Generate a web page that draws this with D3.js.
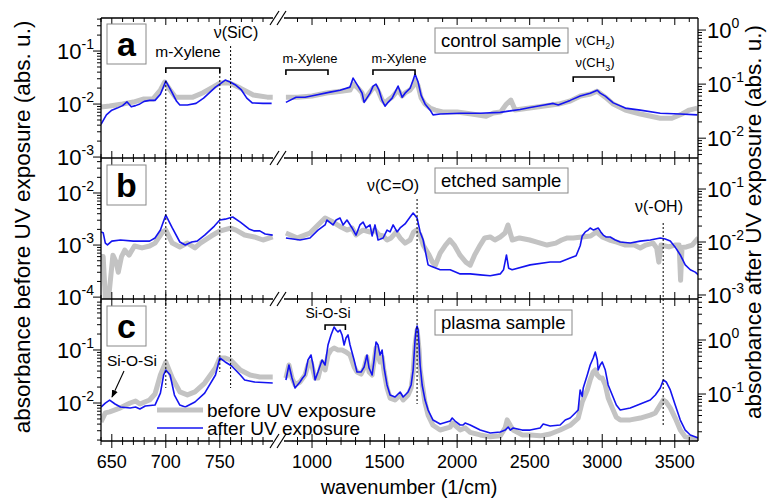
<!DOCTYPE html>
<html><head><meta charset="utf-8">
<script src="https://cdn.jsdelivr.net/npm/d3@7"></script>
<style>body{margin:0;background:#fff}svg{display:block}text{font-family:Arial,"Liberation Sans",sans-serif;fill:#000}</style>
</head><body><svg id="c" width="768" height="498"></svg>
<script>
// ---------- data (wavenumber [1/cm], absorbance [abs. u.]) ----------
const leftTicksMajor=[650,700,750];
const rightTicksMajor=[1000,1500,2000,2500,3000,3500];
const panelLetters=["a","b","c"];
const sampleNames=["control sample","etched sample","plasma sample"];
const seriesNames=["before UV exposure","after UV exposure"];

const aBeforeL=[[640,0.0088],[648,0.0092],[660,0.010],[670,0.0109],[679,0.0124],[688,0.0124],[695,0.0184],[699,0.026],[704,0.0184],[709,0.0135],[713,0.0135],[725,0.0135],[734,0.0162],[744,0.021],[750,0.0249],[759,0.0249],[769,0.020],[781,0.0148],[794,0.0135],[799,0.0135]];
const aAfterL=[[640,0.018],[645,0.027],[650,0.033],[655,0.036],[660,0.040],[664,0.047],[668,0.038],[672,0.040],[676,0.043],[680,0.048],[685,0.050],[690,0.050],[695,0.065],[700,0.114],[705,0.075],[710,0.048],[713,0.041],[720,0.041],[728,0.044],[735,0.055],[741,0.071],[746,0.088],[750,0.10],[755,0.119],[760,0.108],[765,0.095],[770,0.078],[775,0.055],[780,0.045],[790,0.044],[798,0.044]];
const aBeforeR=[[820,0.0135],[900,0.0135],[1000,0.0142],[1100,0.0162],[1200,0.0175],[1262,0.0184],[1283,0.0238],[1317,0.020],[1345,0.0162],[1359,0.0119],[1400,0.0168],[1421,0.020],[1441,0.021],[1462,0.0162],[1483,0.0119],[1503,0.0104],[1524,0.0119],[1552,0.0135],[1593,0.0184],[1621,0.0142],[1641,0.0162],[1676,0.0184],[1697,0.022],[1710,0.0284],[1731,0.022],[1752,0.013],[1779,0.010],[1814,0.0084],[1850,0.0077],[1900,0.0071],[2000,0.0071],[2100,0.0065],[2200,0.0059],[2250,0.0068],[2300,0.0071],[2340,0.010],[2370,0.0119],[2400,0.0077],[2500,0.0084],[2600,0.0092],[2700,0.010],[2780,0.0114],[2850,0.0142],[2920,0.0155],[2966,0.0175],[3021,0.0135],[3076,0.010],[3159,0.0077],[3262,0.0065],[3400,0.0054],[3480,0.0054],[3550,0.0065],[3600,0.0077],[3655,0.0084]];
const aAfterR=[[820,0.046],[890,0.057],[952,0.057],[1020,0.062],[1124,0.071],[1193,0.077],[1262,0.088],[1283,0.129],[1317,0.092],[1345,0.068],[1359,0.046],[1400,0.068],[1421,0.092],[1441,0.10],[1462,0.077],[1483,0.05],[1503,0.039],[1524,0.046],[1552,0.055],[1593,0.092],[1621,0.057],[1641,0.068],[1676,0.084],[1697,0.119],[1710,0.153],[1731,0.109],[1752,0.062],[1779,0.043],[1814,0.033],[1834,0.027],[1883,0.028],[2021,0.029],[2159,0.029],[2297,0.030],[2366,0.032],[2434,0.034],[2503,0.037],[2600,0.041],[2662,0.044],[2697,0.041],[2779,0.05],[2848,0.06],[2917,0.068],[2966,0.077],[2986,0.068],[3021,0.06],[3076,0.045],[3159,0.036],[3262,0.033],[3400,0.029],[3538,0.028],[3655,0.027]];

const bBeforeL=[[640,6e-4],[642,6e-4],[644,1e-4],[646,7e-5],[648,1.5e-4],[651,6.4e-4],[654,4.7e-4],[656,3e-4],[659,6e-4],[662,8e-4],[666,6.4e-4],[671,9.6e-4],[678,8.8e-4],[685,9.6e-4],[690,1.09e-3],[697,1.78e-3],[700,1.94e-3],[706,1.09e-3],[713,9.2e-4],[720,1.09e-3],[727,8.8e-4],[732,1.09e-3],[742,1.49e-3],[750,1.86e-3],[760,2.12e-3],[765,1.94e-3],[773,1.56e-3],[782,1.43e-3],[790,1.25e-3],[799,1.43e-3]];
const bAfterL=[[640,0.0155],[642,0.0150],[644,0.0095],[646,0.0088],[650,0.0104],[658,0.0109],[670,0.0104],[685,0.0104],[690,0.0119],[695,0.0168],[700,0.0323],[706,0.0184],[713,0.010],[718,0.0088],[724,0.010],[729,0.0104],[736,0.0135],[745,0.020],[750,0.026],[755,0.027],[762,0.0296],[769,0.0238],[777,0.0176],[782,0.0162],[787,0.0162],[792,0.0142],[799,0.0135]];
const bBeforeR=[[820,1.7e-3],[900,1.37e-3],[986,1.7e-3],[1041,2.43e-3],[1090,3.31e-3],[1145,2.77e-3],[1200,2.22e-3],[1241,1.94e-3],[1276,2.12e-3],[1303,1.56e-3],[1330,1.78e-3],[1352,1.94e-3],[1400,1.78e-3],[1434,1.94e-3],[1462,1.56e-3],[1490,1.49e-3],[1517,1.25e-3],[1545,1.37e-3],[1580,1.78e-3],[1607,1.37e-3],[1641,1.09e-3],[1676,1.25e-3],[1700,1.78e-3],[1720,1.94e-3],[1745,1.56e-3],[1766,1.0e-3],[1786,8.0e-4],[1807,6.4e-4],[1830,4.7e-4],[1850,4.1e-4],[1883,7.0e-4],[1920,1.0e-3],[1950,1.25e-3],[1980,1.0e-3],[2020,6.4e-4],[2060,4.7e-4],[2090,4.1e-4],[2120,6.4e-4],[2159,1.0e-3],[2190,1.37e-3],[2228,1.43e-3],[2260,1.25e-3],[2297,1.43e-3],[2330,1.7e-3],[2350,2.43e-3],[2380,1.25e-3],[2430,1.37e-3],[2500,1.25e-3],[2550,1.14e-3],[2620,1.0e-3],[2680,1.09e-3],[2720,1.25e-3],[2760,1.37e-3],[2800,1.37e-3],[2862,1.43e-3],[2920,1.49e-3],[2960,1.78e-3],[3000,1.43e-3],[3050,1.25e-3],[3100,1.14e-3],[3160,1.0e-3],[3220,1.0e-3],[3262,8.8e-4],[3300,1.0e-3],[3350,1.09e-3],[3375,8.8e-4],[3390,4.7e-4],[3405,1.0e-3],[3460,9.2e-4],[3500,1.0e-3],[3530,1.0e-3],[3540,2.1e-4],[3550,9.0e-4],[3580,9.2e-4],[3620,1.0e-3],[3662,1.37e-3]];
const bAfterR=[[820,0.0119],[917,0.0109],[986,0.0119],[1041,0.0168],[1090,0.021],[1103,0.026],[1145,0.021],[1166,0.026],[1193,0.0284],[1214,0.021],[1241,0.026],[1276,0.0184],[1303,0.0135],[1330,0.021],[1352,0.0238],[1372,0.0184],[1400,0.021],[1414,0.013],[1434,0.021],[1455,0.0109],[1490,0.0119],[1517,0.0168],[1538,0.0155],[1559,0.021],[1586,0.0155],[1607,0.0184],[1641,0.0219],[1676,0.0296],[1697,0.0352],[1724,0.0284],[1745,0.0155],[1766,0.0109],[1786,0.0057],[1800,0.0037],[1821,0.0035],[1883,0.003],[1952,0.003],[2021,0.0025],[2090,0.0025],[2159,0.0024],[2228,0.0023],[2297,0.0025],[2320,0.003],[2340,0.0057],[2355,0.0032],[2379,0.003],[2503,0.0037],[2641,0.0042],[2710,0.0042],[2779,0.005],[2820,0.0055],[2848,0.0085],[2862,0.013],[2883,0.0155],[2903,0.0168],[2917,0.0184],[2940,0.0168],[2972,0.0184],[2990,0.0155],[3007,0.0135],[3028,0.0124],[3055,0.0124],[3090,0.0109],[3124,0.010],[3193,0.0096],[3262,0.0104],[3331,0.0109],[3400,0.0119],[3434,0.0114],[3469,0.0104],[3503,0.008],[3538,0.0057],[3572,0.0037],[3607,0.003],[3641,0.0027],[3662,0.0024]];

const cBeforeL=[[640,4.4e-3],[644,6.5e-3],[648,6.8e-3],[658,8.1e-3],[667,0.01],[672,0.0109],[676,0.0096],[685,0.0114],[690,0.0148],[695,0.0337],[700,0.0594],[706,0.0296],[713,0.0162],[720,0.0142],[727,0.0162],[736,0.0238],[746,0.0457],[750,0.0706],[755,0.0706],[760,0.0648],[769,0.042],[778,0.0337],[787,0.031],[799,0.031]];
const cAfterL=[[640,0.0574],[644,0.068],[648,0.0774],[653,0.0653],[658,0.0574],[667,0.055],[672,0.0574],[676,0.0528],[681,0.06],[690,0.0625],[695,0.104],[698,0.225],[700,0.278],[704,0.225],[708,0.0958],[713,0.0625],[718,0.0574],[727,0.0711],[736,0.104],[746,0.225],[750,0.464],[755,0.392],[761,0.33],[769,0.225],[773,0.182],[782,0.167],[799,0.16]];
const cBeforeR=[[820,0.0296],[841,0.052],[862,0.0296],[883,0.0219],[917,0.0249],[952,0.0337],[972,0.052],[993,0.0594],[1021,0.0296],[1041,0.0296],[1069,0.0594],[1090,0.042],[1110,0.0805],[1131,0.1],[1152,0.109],[1179,0.1],[1207,0.1],[1234,0.0916],[1262,0.0805],[1290,0.0477],[1310,0.0385],[1338,0.0352],[1359,0.0457],[1379,0.0738],[1393,0.0385],[1414,0.0337],[1441,0.109],[1469,0.0594],[1483,0.0738],[1497,0.0385],[1517,0.0192],[1538,0.0124],[1572,0.0114],[1607,0.0142],[1628,0.0114],[1662,0.0142],[1683,0.0192],[1697,0.0385],[1710,0.124],[1724,0.238],[1738,0.1],[1745,0.042],[1779,0.01],[1800,0.0059],[1834,0.0038],[1883,0.0031],[1952,0.0035],[1966,0.0042],[2021,0.0031],[2055,0.0034],[2090,0.0028],[2159,0.0025],[2228,0.0023],[2297,0.0024],[2331,0.0034],[2345,0.0048],[2366,0.0038],[2386,0.0031],[2448,0.0025],[2503,0.0025],[2572,0.0024],[2641,0.0026],[2710,0.0031],[2779,0.0038],[2834,0.0052],[2862,0.0104],[2897,0.0176],[2917,0.0272],[2938,0.0385],[2952,0.042],[2966,0.0337],[2986,0.0296],[3000,0.0296],[3021,0.0219],[3041,0.0124],[3069,0.0081],[3097,0.0054],[3124,0.0048],[3193,0.0048],[3262,0.0052],[3331,0.0059],[3366,0.0065],[3400,0.0092],[3421,0.0114],[3441,0.0104],[3469,0.0081],[3503,0.0052],[3538,0.0031],[3572,0.0023],[3607,0.0022],[3662,0.002]];
const cAfterR=[[820,0.182],[841,0.344],[862,0.198],[883,0.129],[917,0.167],[935,0.198],[952,0.225],[972,0.426],[993,0.527],[1007,0.344],[1021,0.182],[1041,0.255],[1069,0.426],[1090,0.344],[1110,0.807],[1131,1.24],[1152,1.74],[1166,1.53],[1179,1.41],[1193,1.53],[1207,1.24],[1221,0.807],[1234,1.09],[1248,1.24],[1262,0.807],[1290,0.426],[1310,0.255],[1338,0.255],[1359,0.316],[1379,0.527],[1393,0.303],[1414,0.225],[1428,0.426],[1441,0.918],[1455,0.807],[1469,0.527],[1483,0.653],[1497,0.303],[1517,0.147],[1538,0.0958],[1572,0.088],[1607,0.109],[1628,0.088],[1662,0.109],[1683,0.147],[1697,0.278],[1710,1.0],[1717,1.53],[1724,1.82],[1731,1.53],[1738,0.807],[1745,0.344],[1759,0.147],[1779,0.0774],[1800,0.0505],[1834,0.033],[1883,0.0278],[1952,0.0316],[1966,0.036],[1986,0.0316],[2021,0.0267],[2041,0.0267],[2055,0.029],[2090,0.0267],[2159,0.0215],[2228,0.019],[2297,0.0198],[2331,0.0215],[2352,0.0245],[2366,0.0215],[2386,0.0235],[2448,0.0215],[2503,0.0215],[2572,0.0235],[2593,0.0278],[2641,0.0255],[2710,0.0267],[2745,0.033],[2779,0.036],[2814,0.0445],[2834,0.0505],[2848,0.119],[2862,0.09],[2869,0.129],[2897,0.225],[2917,0.344],[2938,0.464],[2952,0.6],[2966,0.426],[2972,0.278],[2986,0.344],[3000,0.392],[3021,0.278],[3041,0.147],[3069,0.0958],[3097,0.0625],[3124,0.0505],[3193,0.055],[3262,0.0653],[3331,0.0774],[3366,0.0958],[3400,0.129],[3421,0.182],[3441,0.167],[3469,0.119],[3503,0.0625],[3538,0.033],[3572,0.0215],[3607,0.0174],[3662,0.0153]];

// ---------- layout ----------
const svg=d3.select('#c');
const X0=101, X1=698, BRK0=274, BRK1=283;
const xL=d3.scaleLinear().domain([640,800]).range([X0,273.8]);
const xR=d3.scaleLinear().domain([800,3660]).range([BRK1,X1]);

const panels=[
 {top:18,bot:158,ld:[9.6e-4,0.42],rd:[4.3e-3,1.67],lt:[1e-3,1e-2,1e-1],rt:[1e-2,1e-1,1],before:[aBeforeL,aBeforeR],after:[aAfterL,aAfterR]},
 {top:158,bot:299,ld:[9.2e-5,0.047],rd:[8.4e-4,0.385],lt:[1e-4,1e-3,1e-2],rt:[1e-3,1e-2,1e-1],before:[bBeforeL,bBeforeR],after:[bAfterL,bAfterR]},
 {top:299,bot:441,ld:[1.92e-3,0.916],rd:[0.0135,5.74],lt:[1e-2,1e-1],rt:[1e-1,1],before:[cBeforeL,cBeforeR],after:[cAfterL,cAfterR]}
];
const defs=svg.append('defs');
defs.append('marker').attr('id','arr').attr('viewBox','0 0 10 10').attr('refX',9).attr('refY',5)
 .attr('markerWidth',7).attr('markerHeight',7).attr('orient','auto')
 .append('path').attr('d','M0,1 L10,5 L0,9 z').attr('fill','#000');

panels.forEach((p,i)=>{
  p.yl=d3.scaleLog().domain(p.ld).range([p.bot,p.top]);
  p.yr=d3.scaleLog().domain(p.rd).range([p.bot,p.top]);
  [[X0,BRK0,xL,0],[BRK1,X1,xR,1]].forEach(([a,b,xs,k])=>{
    const id='clip'+i+k;
    defs.append('clipPath').attr('id',id).append('rect').attr('x',a).attr('y',p.top).attr('width',b-a).attr('height',p.bot-p.top);
    const g=svg.append('g').attr('clip-path',`url(#${id})`);
    g.append('path').datum(p.before[k]).attr('fill','none').attr('stroke','#c3c3c3').attr('stroke-width',5).attr('stroke-linejoin','round')
      .attr('d',d3.line().x(d=>xs(d[0])).y(d=>p.yl(d[1])));
    g.append('path').datum(p.after[k]).attr('fill','none').attr('stroke','#1414f0').attr('stroke-width',1.6).attr('stroke-linejoin','round')
      .attr('d',d3.line().x(d=>xs(d[0])).y(d=>p.yr(d[1])));
  });
});

// ---------- frame, ticks ----------
const ax=svg.append('g').attr('stroke','#000').attr('stroke-width',1.3);
const hY=[18,158,299,441];
ax.append('line').attr('x1',X0).attr('x2',X0).attr('y1',18).attr('y2',441);
ax.append('line').attr('x1',X1).attr('x2',X1).attr('y1',18).attr('y2',441);
hY.forEach((y,j)=>{
  ax.append('line').attr('x1',X0).attr('x2',BRK0-1).attr('y1',y).attr('y2',y);
  ax.append('line').attr('x1',BRK1+1).attr('x2',X1).attr('y1',y).attr('y2',y);
  ax.append('line').attr('x1',270).attr('y1',y+7).attr('x2',279).attr('y2',y-7).attr('stroke-width',1.2);
  ax.append('line').attr('x1',277).attr('y1',y+7).attr('x2',286).attr('y2',y-7).attr('stroke-width',1.2);
  const up=j===0?0:1, dn=1;
  const tick=(x,len)=>ax.append('line').attr('x1',x).attr('x2',x).attr('y1',y-len*up).attr('y2',y+len*dn).attr('stroke-width',1);
  d3.range(640,800,10).forEach(w=>tick(xL(w),leftTicksMajor.includes(w)?7:4));
  d3.range(900,3700,100).forEach(w=>{if(xR(w)<X1-0.5)tick(xR(w),rightTicksMajor.includes(w)?7:4);});
});
function minorTicks(dom){
  const out=[];const e0=Math.floor(Math.log10(dom[0])),e1=Math.ceil(Math.log10(dom[1]));
  for(let e=e0;e<=e1;e++)for(let m=1;m<=9;m++){const v=m*Math.pow(10,e);if(v>=dom[0]&&v<=dom[1])out.push([v,m===1]);}
  return out;
}
function pow10(x,y,exp,anchor){
  const t=svg.append('text').attr('x',x).attr('y',y+8).attr('text-anchor',anchor).style('font-size','22px');
  t.append('tspan').text('10');
  t.append('tspan').attr('dy',-10).style('font-size','14px').text(exp);
}
panels.forEach(p=>{
  minorTicks(p.ld).forEach(([v,maj])=>{const y=p.yl(v);if(y>p.top+0.5&&y<p.bot-0.5||maj)ax.append('line').attr('x1',X0-(maj?8:4)).attr('x2',X0).attr('y1',y).attr('y2',y).attr('stroke-width',1);});
  minorTicks(p.rd).forEach(([v,maj])=>{const y=p.yr(v);if(y>p.top+0.5&&y<p.bot-0.5||maj)ax.append('line').attr('x1',X1).attr('x2',X1+(maj?8:4)).attr('y1',y).attr('y2',y).attr('stroke-width',1);});
  p.lt.forEach(v=>pow10(94,p.yl(v),String(Math.round(Math.log10(v))),'end'));
  p.rt.forEach(v=>pow10(707,p.yr(v),String(Math.round(Math.log10(v))),'start'));
});
// x tick labels
leftTicksMajor.forEach(w=>svg.append('text').attr('x',xL(w)).attr('y',468).attr('text-anchor','middle').style('font-size','18px').text(w));
rightTicksMajor.forEach(w=>svg.append('text').attr('x',xR(w)).attr('y',468).attr('text-anchor','middle').style('font-size','18px').text(w));
svg.append('text').attr('x',409).attr('y',494).attr('text-anchor','middle').style('font-size','20px').text('wavenumber (1/cm)');
svg.append('text').attr('transform','translate(30,227) rotate(-90)').attr('text-anchor','middle').style('font-size','22.5px').text('absorbance before UV exposure (abs. u.)');
svg.append('text').attr('transform','translate(761,222) rotate(-90)').attr('text-anchor','middle').style('font-size','22.5px').text('absorbance after UV exposure (abs. u.)');

// ---------- panel letters & sample boxes ----------
panels.forEach((p,i)=>{
  const by=p.top+(i===0?6:7);
  svg.append('rect').attr('x',107).attr('y',by).attr('width',39).attr('height',40).attr('fill','#fff').attr('stroke','#888').attr('stroke-width',1);
  svg.append('text').attr('x',126.5).attr('y',by+32).attr('text-anchor','middle').style('font-size','34px').style('font-weight','bold').text(panelLetters[i]);
  const sy=p.top+(i===2?11:10);
  svg.append('rect').attr('x',435).attr('y',sy).attr('width',i===2?137:133).attr('height',25).attr('fill','#fff').attr('stroke','#888').attr('stroke-width',1);
  svg.append('text').attr('x',441).attr('y',sy+19).style('font-size','18.5px').text(sampleNames[i]);
});

// ---------- annotations ----------
const an=svg.append('g');
const dash=(x,y1,y2)=>an.append('line').attr('x1',x).attr('x2',x).attr('y1',y1).attr('y2',y2).attr('stroke','#000').attr('stroke-width',1).attr('stroke-dasharray','2,2');
const bracket=(x1,x2,y)=>an.append('path').attr('d',`M${x1},${y+5}V${y}H${x2}V${y+5}`).attr('fill','none').attr('stroke','#000').attr('stroke-width',1.6);
const label=(x,y,t,fs,anchor='middle')=>an.append('text').attr('x',x).attr('y',y).attr('text-anchor',anchor).style('font-size',fs+'px').text(t);
// panel a
dash(xL(700),81,158);dash(xL(750),68,158);dash(xL(760),46,158);
bracket(xL(700),xL(750),68);label(188,57,'m-Xylene',15.5);
label(236,38,'ν(SiC)',16);
bracket(xR(820),xR(1110),70);label(310,63,'m-Xylene',13);
bracket(xR(1420),xR(1710),70);label(399,63,'m-Xylene',13);
bracket(xR(2800),xR(3080),77);
{const t=label(595,45,'ν(CH',13);t.append('tspan').attr('dy',4).style('font-size','9px').text('2');t.append('tspan').attr('dy',-4).text(')');}
{const t=label(595,67,'ν(CH',13);t.append('tspan').attr('dy',4).style('font-size','9px').text('3');t.append('tspan').attr('dy',-4).text(')');}
// panel b
dash(xL(700),158,299);dash(xL(750),158,299);dash(xL(760),158,299);
label(393,191,'ν(C=O)',16);dash(xR(1724),199,299);
label(659,212,'ν(-OH)',16);dash(xR(3420),223,299);
// panel c
dash(xL(700),299,388);dash(xL(750),299,372);dash(xL(760),299,388);
dash(xR(1724),299,404);dash(xR(3420),299,427);
bracket(xR(1090),xR(1230),325);label(328,318,'Si-O-Si',14);
label(132,366,'Si-O-Si',15.5);
an.append('line').attr('x1',124).attr('y1',371).attr('x2',112).attr('y2',397).attr('stroke','#000').attr('stroke-width',1.1).attr('marker-end','url(#arr)');

// ---------- legend ----------
const lg=svg.append('g');
lg.append('line').attr('x1',157).attr('x2',203).attr('y1',410).attr('y2',410).attr('stroke','#c3c3c3').attr('stroke-width',5);
lg.append('line').attr('x1',157).attr('x2',203).attr('y1',428).attr('y2',428).attr('stroke','#1414f0').attr('stroke-width',1.6);
lg.append('text').attr('x',207).attr('y',417).style('font-size','19px').text(seriesNames[0]);
lg.append('text').attr('x',207).attr('y',435).style('font-size','19px').text(seriesNames[1]);
</script></body></html>
